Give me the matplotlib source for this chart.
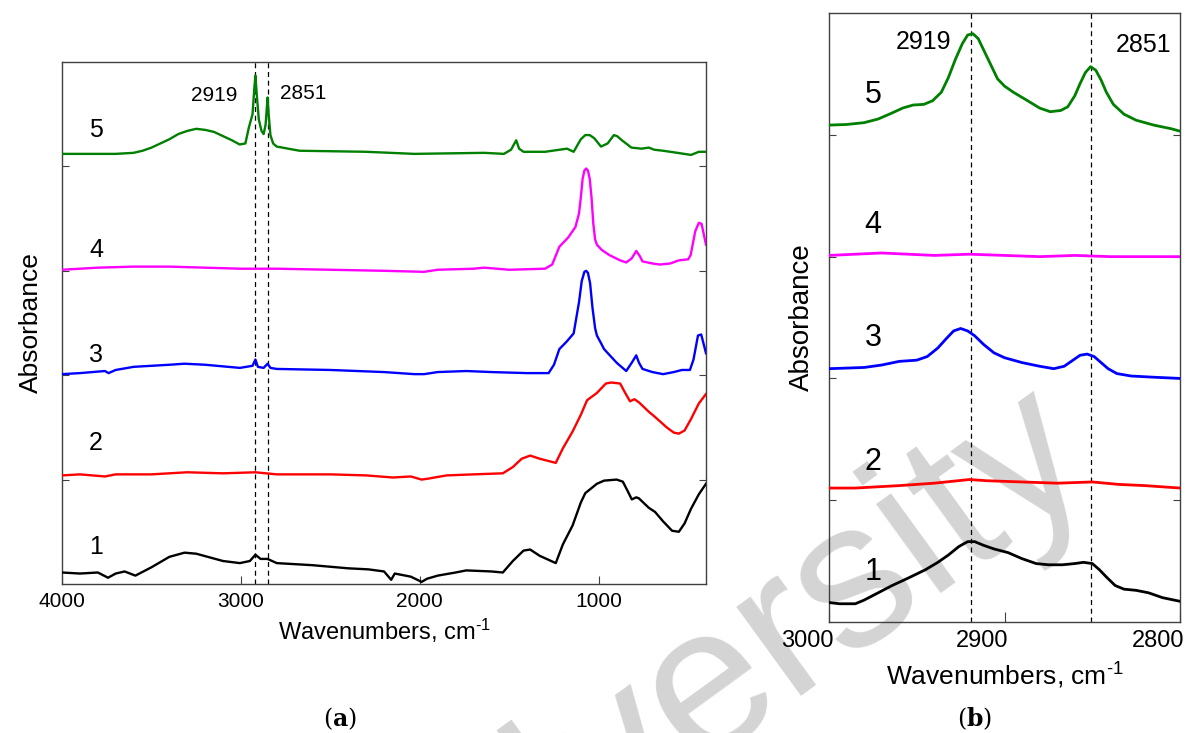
import numpy as np
import matplotlib
matplotlib.use('Agg')
import matplotlib.pyplot as plt
import matplotlib.transforms as mtransforms

plt.rcParams['font.family'] = ['Liberation Sans', 'DejaVu Sans']
plt.rcParams['mathtext.fontset'] = 'dejavuserif'

# ---- panel (a): full spectra, 4000-400 cm-1 ----
wn5a = [4000, 3800, 3700, 3600, 3550, 3500, 3450, 3400, 3350, 3300, 3250, 3200, 3150, 3100, 3050,
        3007, 2975, 2956, 2935, 2925, 2919, 2912, 2900, 2885, 2873, 2862, 2851, 2845, 2835, 2820,
        2800, 2672, 2300, 2030, 1640, 1530, 1490, 1461, 1445, 1420, 1300, 1177, 1140, 1100, 1075,
        1050, 1025, 987, 950, 915, 897, 870, 817, 760, 720, 690, 640, 560, 484, 440, 400]
ab5a = [4.12, 4.12, 4.12, 4.13, 4.15, 4.18, 4.22, 4.26, 4.31, 4.34, 4.36, 4.35, 4.33, 4.29, 4.25,
        4.21, 4.22, 4.37, 4.50, 4.75, 4.87, 4.70, 4.45, 4.34, 4.31, 4.40, 4.66, 4.50, 4.30, 4.22,
        4.19, 4.15, 4.14, 4.12, 4.13, 4.12, 4.16, 4.25, 4.17, 4.14, 4.14, 4.17, 4.14, 4.26, 4.30,
        4.30, 4.27, 4.19, 4.22, 4.30, 4.29, 4.25, 4.18, 4.17, 4.18, 4.16, 4.15, 4.13, 4.11, 4.14, 4.14]

wn4a = [4000, 3800, 3600, 3400, 3200, 3000, 2800, 2500, 2200, 1976, 1900, 1700, 1640, 1500, 1300,
        1260, 1220, 1170, 1130, 1110, 1100, 1090, 1080, 1070, 1060, 1050, 1040, 1030, 1020, 1010,
        983, 940, 880, 846, 815, 790, 770, 755, 700, 657, 600, 552, 500, 486, 460, 440, 425, 400]
ab4a = [3.01, 3.03, 3.04, 3.04, 3.03, 3.02, 3.02, 3.01, 3.00, 2.99, 3.01, 3.02, 3.03, 3.01, 3.02,
        3.06, 3.23, 3.32, 3.42, 3.55, 3.70, 3.88, 3.96, 3.98, 3.96, 3.88, 3.70, 3.45, 3.30, 3.25,
        3.20, 3.15, 3.10, 3.08, 3.12, 3.19, 3.14, 3.09, 3.07, 3.06, 3.07, 3.10, 3.11, 3.15, 3.38,
        3.46, 3.45, 3.25]

wn3a = [4000, 3900, 3760, 3740, 3700, 3600, 3400, 3315, 3200, 3006, 2935, 2919, 2905, 2873, 2851,
        2835, 2800, 2500, 2200, 2030, 1976, 1900, 1740, 1600, 1400, 1280, 1250, 1220, 1180, 1140,
        1110, 1095, 1080, 1070, 1060, 1048, 1035, 1020, 1010, 985, 970, 900, 846, 815, 790, 775,
        755, 700, 640, 580, 535, 490, 470, 445, 427, 400]
ab3a = [2.01, 2.02, 2.04, 2.02, 2.05, 2.08, 2.10, 2.11, 2.10, 2.07, 2.09, 2.15, 2.08, 2.07, 2.11,
        2.07, 2.06, 2.05, 2.03, 2.01, 2.01, 2.03, 2.04, 2.03, 2.02, 2.02, 2.10, 2.25, 2.32, 2.40,
        2.70, 2.90, 2.99, 3.00, 2.98, 2.88, 2.65, 2.45, 2.38, 2.30, 2.25, 2.12, 2.04, 2.12, 2.19, 2.12,
        2.06, 2.03, 2.01, 2.03, 2.05, 2.05, 2.15, 2.38, 2.39, 2.21]

wn2a = [4000, 3900, 3760, 3700, 3500, 3300, 3100, 2919, 2800, 2500, 2300, 2150, 2050, 1990, 1950,
        1850, 1700, 1536, 1480, 1430, 1383, 1330, 1240, 1200, 1146, 1100, 1065, 1010, 960, 930, 880,
        855, 825, 800, 775, 720, 685, 620, 580, 552, 520, 484, 440, 400]
ab2a = [1.04, 1.05, 1.03, 1.05, 1.05, 1.07, 1.06, 1.07, 1.05, 1.05, 1.04, 1.02, 1.03, 1.00, 1.01,
        1.04, 1.05, 1.06, 1.12, 1.20, 1.23, 1.20, 1.16, 1.30, 1.46, 1.62, 1.76, 1.83, 1.92, 1.93, 1.92,
        1.84, 1.75, 1.77, 1.74, 1.65, 1.60, 1.50, 1.45, 1.44, 1.47, 1.58, 1.73, 1.82]

wn1a = [4000, 3900, 3800, 3743, 3700, 3650, 3590, 3500, 3400, 3315, 3250, 3100, 3006, 2950, 2919,
        2890, 2851, 2800, 2600, 2400, 2287, 2200, 2160, 2140, 2050, 1990, 1960, 1900, 1800, 1740,
        1600, 1536, 1480, 1420, 1383, 1330, 1240, 1200, 1146, 1100, 1075, 1010, 970, 900, 865, 835,
        815, 790, 775, 720, 685, 640, 590, 552, 520, 484, 440, 400]
ab1a = [0.11, 0.10, 0.11, 0.06, 0.10, 0.12, 0.08, 0.16, 0.26, 0.30, 0.29, 0.22, 0.20, 0.22, 0.28,
        0.24, 0.24, 0.20, 0.18, 0.15, 0.14, 0.12, 0.04, 0.10, 0.07, 0.02, 0.05, 0.08, 0.11, 0.13,
        0.12, 0.11, 0.22, 0.32, 0.33, 0.27, 0.20, 0.38, 0.56, 0.78, 0.87, 0.96, 0.99, 1.00, 0.98, 0.88,
        0.81, 0.83, 0.82, 0.73, 0.69, 0.60, 0.51, 0.50, 0.58, 0.72, 0.86, 0.96]

# ---- panel (b): C-H stretching region, 3000-2800 cm-1 ----
wn5b = [3000, 2990, 2980, 2972, 2964, 2958, 2952, 2946, 2941, 2936, 2932, 2928, 2924, 2921, 2918,
        2915, 2912, 2908, 2904, 2900, 2895, 2888, 2880, 2874, 2868, 2864, 2860, 2857, 2854, 2851,
        2848, 2845, 2842, 2838, 2832, 2825, 2815, 2805, 2800]
ab5b = [4.08, 4.085, 4.10, 4.13, 4.18, 4.22, 4.245, 4.25, 4.28, 4.35, 4.47, 4.62, 4.75, 4.82, 4.83,
        4.79, 4.70, 4.58, 4.46, 4.40, 4.35, 4.29, 4.22, 4.19, 4.20, 4.23, 4.32, 4.42, 4.51, 4.56,
        4.53, 4.45, 4.35, 4.25, 4.17, 4.12, 4.08, 4.05, 4.03]

wn4b = [3000, 2985, 2970, 2955, 2940, 2920, 2900, 2880, 2860, 2840, 2820, 2800]
ab4b = [3.01, 3.02, 3.03, 3.02, 3.01, 3.02, 3.01, 3.00, 3.01, 3.00, 3.00, 3.00]

wn3b = [3000, 2990, 2980, 2970, 2960, 2950, 2944, 2938, 2933, 2929, 2925, 2921, 2917, 2912, 2906,
        2900, 2890, 2880, 2872, 2866, 2861, 2857, 2853, 2849, 2845, 2841, 2836, 2828, 2815, 2800]
ab3b = [2.08, 2.085, 2.09, 2.11, 2.14, 2.15, 2.18, 2.25, 2.33, 2.39, 2.41, 2.39, 2.35, 2.28, 2.21,
        2.17, 2.13, 2.10, 2.08, 2.10, 2.15, 2.19, 2.20, 2.18, 2.13, 2.08, 2.04, 2.02, 2.01, 2.00]

wn2b = [3000, 2985, 2960, 2940, 2920, 2910, 2890, 2870, 2850, 2835, 2820, 2800]
ab2b = [1.10, 1.10, 1.12, 1.14, 1.17, 1.16, 1.15, 1.14, 1.15, 1.13, 1.12, 1.10]

wn1b = [3000, 2994, 2985, 2980, 2972, 2964, 2955, 2945, 2938, 2932, 2926, 2921, 2917, 2912, 2906,
        2898, 2890, 2882, 2875, 2867, 2860, 2855, 2850, 2846, 2842, 2837, 2832, 2825, 2818, 2810, 2800]
ab1b = [0.16, 0.15, 0.15, 0.18, 0.24, 0.30, 0.36, 0.43, 0.49, 0.55, 0.62, 0.66, 0.66, 0.63, 0.60,
        0.57, 0.52, 0.48, 0.47, 0.47, 0.48, 0.49, 0.48, 0.43, 0.37, 0.30, 0.27, 0.26, 0.24, 0.20, 0.17]

colors = ['black', '#ff0000', '#0000ff', '#ff00ff', '#008000']
peaks = [2919, 2851]
labels = ['1', '2', '3', '4', '5']
label_ya = [0.35, 1.35, 2.19, 3.20, 4.35]
label_yb = [0.41, 1.31, 2.33, 3.26, 4.33]

fig = plt.figure(figsize=(11.86, 7.33), dpi=100)
fig.text(0.925, 0.36, 'University', rotation=36, rotation_mode='anchor', fontsize=150,
         color='#d4d4d4', ha='right', va='baseline', zorder=-5)

axa = fig.add_axes([0.0523, 0.2033, 0.5430, 0.7121])
axb = fig.add_axes([0.6990, 0.1514, 0.2960, 0.8308])

spectra_a = [(wn1a, ab1a), (wn2a, ab2a), (wn3a, ab3a), (wn4a, ab4a), (wn5a, ab5a)]
spectra_b = [(wn1b, ab1b), (wn2b, ab2b), (wn3b, ab3b), (wn4b, ab4b), (wn5b, ab5b)]

for ax, spectra, lw in [(axa, spectra_a, 1.7), (axb, spectra_b, 2.0)]:
    ax.set_facecolor('none')
    for (x, y), c in zip(spectra, colors):
        ax.plot(x, y, color=c, lw=lw, zorder=3, solid_joinstyle='round')
    for p in peaks:
        ax.axvline(p, color='black', lw=0.9, ls=(0, (4, 3)), zorder=2)
    ax.set_ylim(0, 5)
    ax.set_yticks([1, 2, 3, 4])
    ax.tick_params(axis='y', which='both', direction='in', left=True, right=True,
                   labelleft=False, length=5, color='#404040')
    for s in ax.spines.values():
        s.set_color('#404040')
        s.set_linewidth(1.0)
    ax.set_ylabel('Absorbance')

xlab = 'Wavenumbers, cm$^{\\mathregular{\u2010}\\mathregular{1}}$'

# panel (a)
axa.set_xlim(4000, 400)
axa.set_xticks([4000, 3000, 2000, 1000])
axa.tick_params(axis='x', direction='in', length=6, labelsize=15, pad=6, color='#404040')
axa.set_xlabel(xlab, fontsize=17, labelpad=4)
axa.yaxis.label.set_size(19)
axa.yaxis.labelpad = 14
for lab, y in zip(labels, label_ya):
    axa.text(3810, y, lab, fontsize=18, ha='center', va='center')
axa.text(3150, 4.68, '2919', fontsize=15, ha='center', va='center')
axa.text(2650, 4.70, '2851', fontsize=15, ha='center', va='center')

# panel (b)
axb.set_xlim(3000, 2800)
axb.set_xticks([3000, 2900, 2800])
axb.tick_params(axis='x', direction='in', length=7, labelsize=17, pad=6, color='#404040')
shift = mtransforms.ScaledTranslation(-0.22, 0, fig.dpi_scale_trans)
for t in axb.get_xticklabels():
    t.set_transform(t.get_transform() + shift)
axb.set_xlabel(xlab, fontsize=19, labelpad=6)
axb.yaxis.label.set_size(20)
axb.yaxis.labelpad = 10
for lab, y in zip(labels, label_yb):
    axb.text(2975, y, lab, fontsize=22, ha='center', va='center')
axb.text(2946, 4.76, '2919', fontsize=18, ha='center', va='center')
axb.text(2821, 4.74, '2851', fontsize=18, ha='center', va='center')

fig.text(0.287, 0.02, r'($\mathbf{a}$)', fontsize=17, ha='center', va='center', family='DejaVu Serif')
fig.text(0.822, 0.02, r'($\mathbf{b}$)', fontsize=17, ha='center', va='center', family='DejaVu Serif')

fig.savefig('out.png', dpi=100)
